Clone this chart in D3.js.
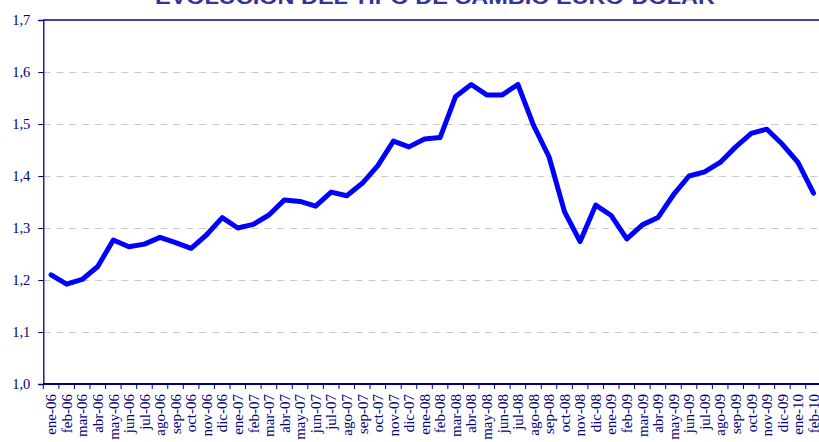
<!DOCTYPE html>
<html>
<head>
<meta charset="utf-8">
<script src="https://cdn.jsdelivr.net/npm/d3@7"></script>
<style>
  html, body { margin: 0; padding: 0; background: #fff; overflow: hidden; }
  svg { display: block; }
</style>
</head>
<body>
<svg id="chart" width="819" height="442"></svg>
<script>
// Monthly EUR/USD exchange rate, Jan 2006 – Feb 2010
const months = [
  "ene-06","feb-06","mar-06","abr-06","may-06","jun-06","jul-06","ago-06","sep-06","oct-06","nov-06","dic-06",
  "ene-07","feb-07","mar-07","abr-07","may-07","jun-07","jul-07","ago-07","sep-07","oct-07","nov-07","dic-07",
  "ene-08","feb-08","mar-08","abr-08","may-08","jun-08","jul-08","ago-08","sep-08","oct-08","nov-08","dic-08",
  "ene-09","feb-09","mar-09","abr-09","may-09","jun-09","jul-09","ago-09","sep-09","oct-09","nov-09","dic-09",
  "ene-10","feb-10"
];
const rates = [
  1.210, 1.192, 1.201, 1.226, 1.277, 1.264, 1.269, 1.282, 1.272, 1.261, 1.287, 1.320,
  1.300, 1.307, 1.325, 1.354, 1.351, 1.342, 1.369, 1.362, 1.386, 1.420, 1.467, 1.456,
  1.471, 1.474, 1.553, 1.576, 1.556, 1.556, 1.576, 1.498, 1.437, 1.331, 1.274, 1.344,
  1.324, 1.279, 1.306, 1.320, 1.364, 1.400, 1.408, 1.426, 1.456, 1.482, 1.490, 1.461,
  1.426, 1.367
];
const yTicks = [1.0, 1.1, 1.2, 1.3, 1.4, 1.5, 1.6, 1.7];
const title = "EVOLUCIÓN DEL TIPO DE CAMBIO EURO-DÓLAR";

const navy = "#000080";
const svg = d3.select("#chart");
const plotLeft = 43.3, plotRight = 821.3, plotTop = 20, plotBottom = 384;

const x = d3.scaleBand().domain(months).range([plotLeft, plotRight]).paddingInner(0).paddingOuter(0);
const y = d3.scaleLinear().domain([1.0, 1.7]).range([plotBottom, plotTop]);
const fmt = v => d3.format(".1f")(v).replace(".", ",");

// Title (sits partly above the visible area)
svg.append("text")
  .attr("x", 435).attr("y", 4)
  .attr("text-anchor", "middle")
  .attr("textLength", 560)
  .attr("lengthAdjust", "spacingAndGlyphs")
  .style("font-family", "'Liberation Sans', Arial, sans-serif")
  .style("font-weight", "bold")
  .style("font-size", "20px")
  .style("fill", "#333399")
  .text(title);

// Dashed horizontal gridlines
svg.append("g")
  .selectAll("line")
  .data(yTicks.filter(t => t > 1.0 && t < 1.7))
  .join("line")
  .attr("x1", plotLeft).attr("x2", 819)
  .attr("y1", d => Math.round(y(d)) + 0.5).attr("y2", d => Math.round(y(d)) + 0.5)
  .attr("stroke", "#c8c8c8")
  .attr("stroke-width", 1)
  .attr("stroke-dasharray", "7,6");

// Top border of the plot area
svg.append("line")
  .attr("x1", plotLeft).attr("x2", 819)
  .attr("y1", plotTop).attr("y2", plotTop)
  .attr("stroke", navy).attr("stroke-width", 1.5);

// Y axis
const yAxis = svg.append("g")
  .attr("transform", `translate(${plotLeft},0)`)
  .call(d3.axisLeft(y).tickValues(yTicks).tickFormat(fmt).tickSize(5).tickPadding(8));
yAxis.select(".domain").attr("stroke", navy).attr("stroke-width", 1.3);
yAxis.selectAll(".tick line").attr("stroke", navy);
yAxis.selectAll(".tick text")
  .style("font-family", "'Liberation Serif', 'Times New Roman', serif")
  .style("font-size", "14.5px")
  .style("fill", navy);

// X axis: ticks on month boundaries, labels rotated
const xg = svg.append("g").attr("transform", `translate(0,${plotBottom})`);
xg.append("line")
  .attr("x1", plotLeft).attr("x2", 819)
  .attr("y1", 0).attr("y2", 0)
  .attr("stroke", navy).attr("stroke-width", 2.2);
xg.selectAll("line.tk")
  .data(months)
  .join("line")
  .attr("class", "tk")
  .attr("x1", d => x(d)).attr("x2", d => x(d))
  .attr("y1", 0).attr("y2", 5)
  .attr("stroke", navy).attr("stroke-width", 1);
xg.selectAll("text")
  .data(months)
  .join("text")
  .attr("transform", d => `translate(${x(d) + x.bandwidth() / 2},10) rotate(-90)`)
  .attr("dy", "0.35em")
  .attr("text-anchor", "end")
  .style("font-family", "'Liberation Serif', 'Times New Roman', serif")
  .style("font-size", "15px")
  .style("fill", navy)
  .text(d => d);

// Rate line
const line = d3.line()
  .x((d, i) => x(months[i]) + x.bandwidth() / 2)
  .y(d => y(d));
svg.append("path")
  .datum(rates)
  .attr("d", line)
  .attr("fill", "none")
  .attr("stroke", "#0000ff")
  .attr("stroke-width", 5)
  .attr("stroke-linejoin", "round")
  .attr("stroke-linecap", "round");
</script>
</body>
</html>
